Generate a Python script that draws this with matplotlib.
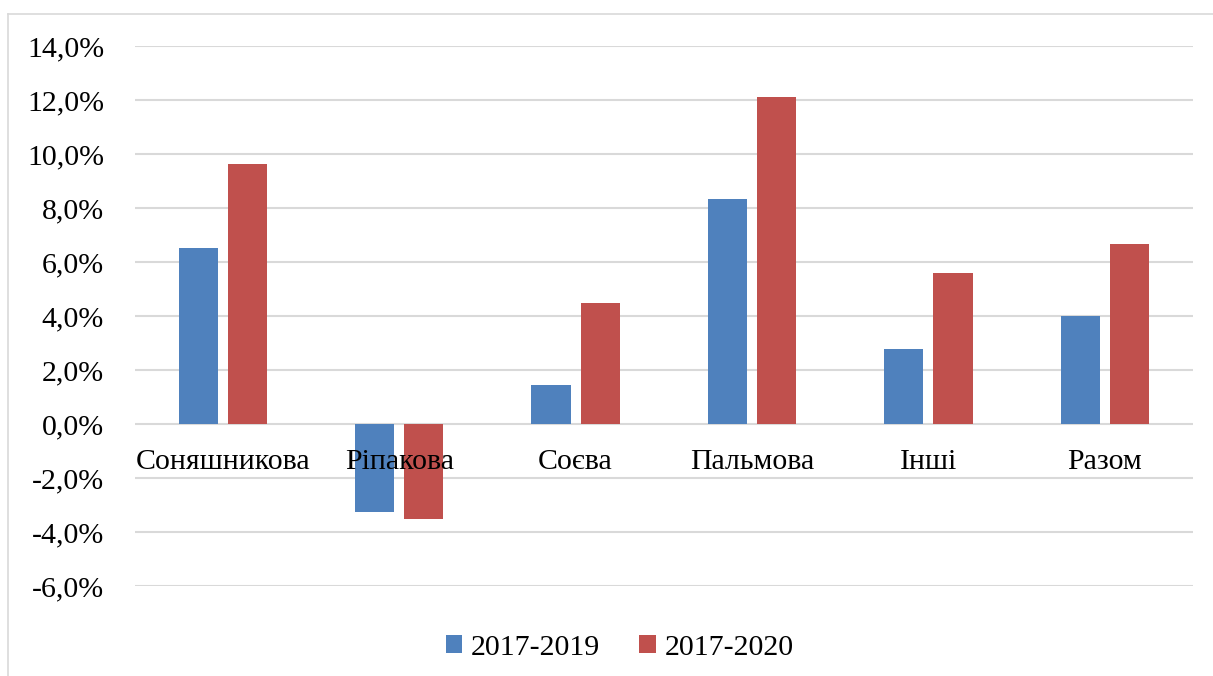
import matplotlib
matplotlib.use("Agg")
import matplotlib.pyplot as plt
import numpy as np
from matplotlib.lines import Line2D
from matplotlib.ticker import FuncFormatter

plt.rcParams['font.family'] = ['Liberation Serif', 'DejaVu Serif']

categories = ["Соняшникова", "Ріпакова", "Соєва", "Пальмова", "Інші", "Разом"]
series_names = ["2017-2019", "2017-2020"]
growth_2019 = [6.53, -3.26, 1.43, 8.32, 2.78, 3.99]
growth_2020 = [9.63, -3.53, 4.47, 12.10, 5.58, 6.66]
colors = ["#4F81BD", "#C0504D"]
fs = 21.5

fig = plt.figure(figsize=(12.13, 6.76), dpi=100)
ax = fig.add_axes([0.111, 0.133, 0.8725, 0.799])

x = np.arange(len(categories))
width = 0.222
gap = 0.057
off = (width + gap) / 2
ax.bar(x - off, growth_2019, width, color=colors[0], label=series_names[0], zorder=3)
ax.bar(x + off, growth_2020, width, color=colors[1], label=series_names[1], zorder=3)

ax.set_xlim(-0.5, len(categories) - 0.5)
ax.set_ylim(-6, 14)
ax.set_yticks(np.arange(-6, 15, 2))
ax.yaxis.set_major_formatter(FuncFormatter(lambda v, p: f"{v:.1f}%".replace(".", ",")))
ax.yaxis.grid(True, color="#d9d9d9", linewidth=1.5, zorder=0)
ax.set_axisbelow(True)
for s in ax.spines.values():
    s.set_visible(False)
ax.set_xticks([])
ax.tick_params(axis='y', length=0, pad=22, labelsize=fs)

# category labels just under the zero line, drawn over the bars
for xi, name in zip(x, categories):
    ax.annotate(name, (xi, 0), xytext=(0, -27), textcoords="offset points",
                ha="center", va="center", fontsize=fs, zorder=5)

ax.legend(loc="center", bbox_to_anchor=(0.511, 0.042), bbox_transform=fig.transFigure,
          ncol=2, frameon=False, fontsize=fs, handlelength=0.55, handleheight=0.55,
          handletextpad=0.3, columnspacing=1.3)

# outer chart border
fig.add_artist(Line2D([8 / 1213, 8 / 1213], [0, 1 - 14 / 676], color="#d9d9d9", lw=1.2,
                      transform=fig.transFigure))
fig.add_artist(Line2D([8 / 1213, 1], [1 - 14 / 676, 1 - 14 / 676], color="#d9d9d9", lw=1.2,
                      transform=fig.transFigure))

fig.savefig("out.png", dpi=100)
